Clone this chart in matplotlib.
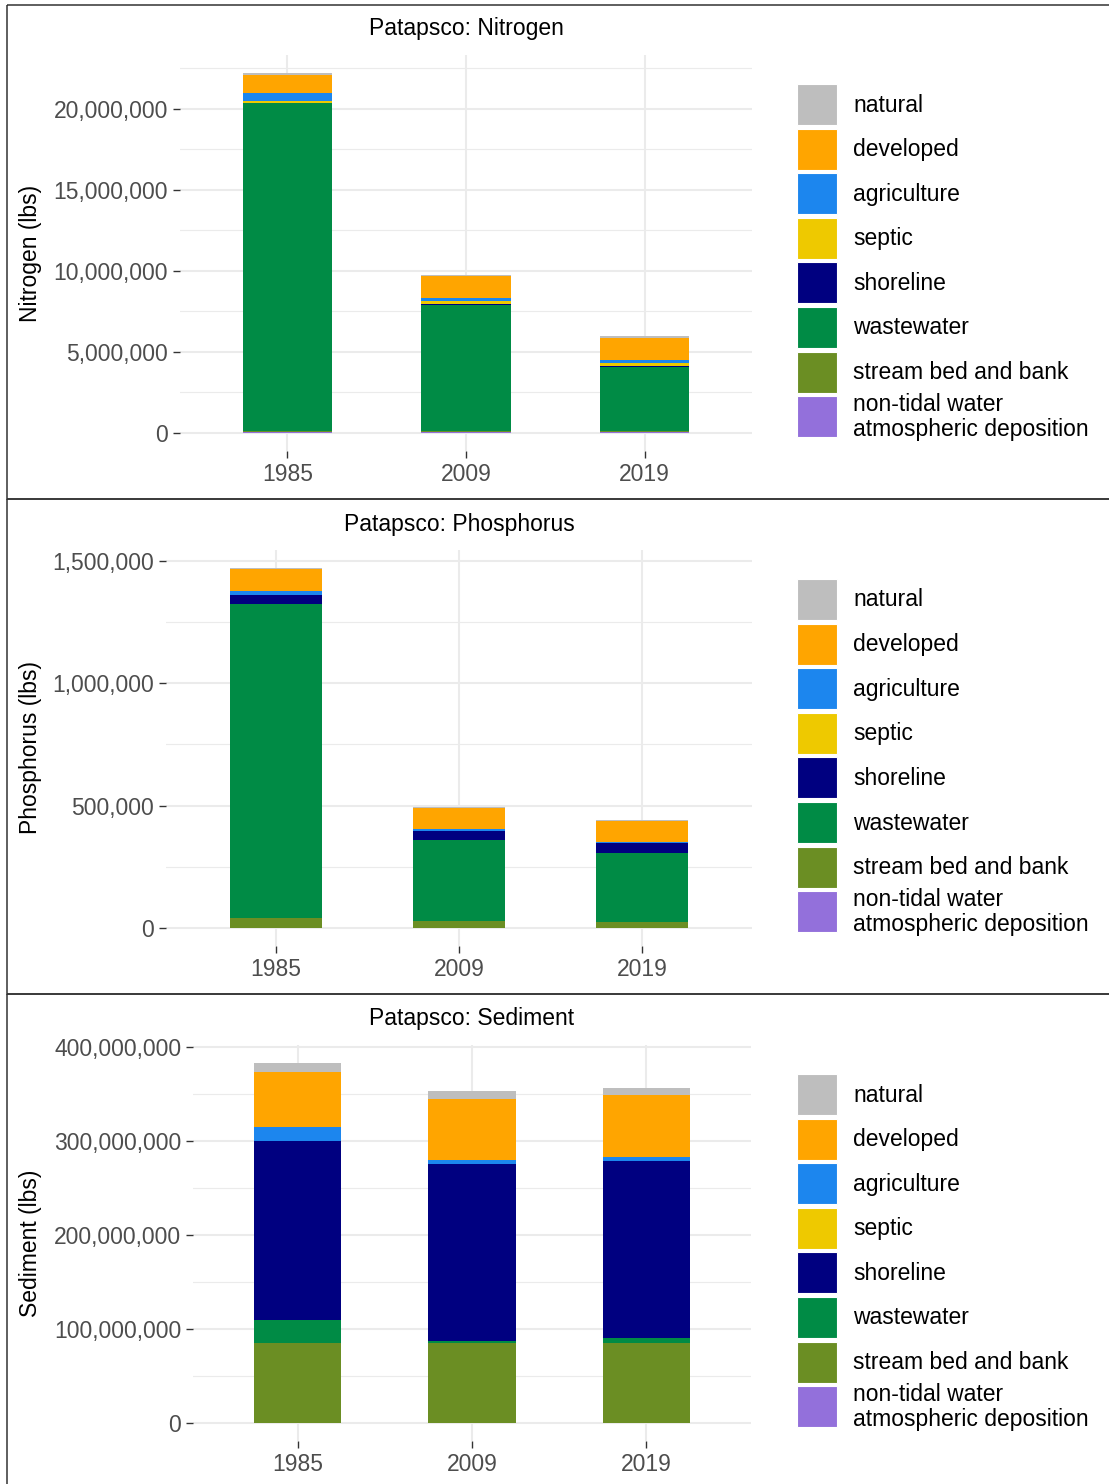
import matplotlib
matplotlib.use("Agg")
import matplotlib.pyplot as plt
from matplotlib.patches import Rectangle
from matplotlib.ticker import FuncFormatter, MultipleLocator

plt.rcParams["font.family"] = ["Liberation Sans", "DejaVu Sans"]

W, H = 1109, 1484

years = ["1985", "2009", "2019"]
sources = [
    "natural", "developed", "agriculture", "septic", "shoreline",
    "wastewater", "stream bed and bank", "non-tidal water\natmospheric deposition",
]
colors = ["#BEBEBE", "#FFA500", "#1C86EE", "#EEC900", "#000080",
          "#008B45", "#6B8E23", "#9370DB"]

# loads in lbs, listed per source in the order of `sources`
nitrogen_natural = [140000, 100000, 100000]
nitrogen_developed = [1090000, 1310000, 1380000]
nitrogen_agriculture = [475000, 230000, 185000]
nitrogen_septic = [120000, 190000, 165000]
nitrogen_shoreline = [20000, 20000, 80000]
nitrogen_wastewater = [20250000, 7800000, 3950000]
nitrogen_stream = [60000, 60000, 60000]
nitrogen_nontidal = [50000, 50000, 50000]

phosphorus_natural = [4000, 4000, 4000]
phosphorus_developed = [89000, 88000, 86000]
phosphorus_agriculture = [18000, 6000, 4000]
phosphorus_septic = [0, 0, 0]
phosphorus_shoreline = [38000, 38000, 40000]
phosphorus_wastewater = [1280000, 332000, 283000]
phosphorus_stream = [39000, 26000, 23000]
phosphorus_nontidal = [2000, 2000, 2000]

sediment_natural = [10000000, 7800000, 7100000]
sediment_developed = [58100000, 64600000, 65600000]
sediment_agriculture = [14900000, 4900000, 4300000]
sediment_septic = [0, 0, 0]
sediment_shoreline = [190100000, 188000000, 188600000]
sediment_wastewater = [24500000, 2100000, 5300000]
sediment_stream = [85100000, 85100000, 85100000]
sediment_nontidal = [0, 0, 0]

panels = [
    dict(title="Patapsco: Nitrogen", ylabel="Nitrogen (lbs)",
         loads=[nitrogen_natural, nitrogen_developed, nitrogen_agriculture,
                nitrogen_septic, nitrogen_shoreline, nitrogen_wastewater,
                nitrogen_stream, nitrogen_nontidal],
         major=5000000, box=(180, 752), offset=0),
    dict(title="Patapsco: Phosphorus", ylabel="Phosphorus (lbs)",
         loads=[phosphorus_natural, phosphorus_developed, phosphorus_agriculture,
                phosphorus_septic, phosphorus_shoreline, phosphorus_wastewater,
                phosphorus_stream, phosphorus_nontidal],
         major=500000, box=(166, 752), offset=495),
    dict(title="Patapsco: Sediment", ylabel="Sediment (lbs)",
         loads=[sediment_natural, sediment_developed, sediment_agriculture,
                sediment_septic, sediment_shoreline, sediment_wastewater,
                sediment_stream, sediment_nontidal],
         major=100000000, box=(193, 751), offset=990),
]

FS = 16.5
TICK_GREY = "#4D4D4D"
GRID = "#EBEBEB"

fig = plt.figure(figsize=(W / 100, H / 100), dpi=100)
fig.patch.set_facecolor("white")


def px_axes(x0, y0, x1, y1, **kw):
    return fig.add_axes([x0 / W, 1 - y1 / H, (x1 - x0) / W, (y1 - y0) / H], **kw)


overlay = px_axes(0, 0, W, H, zorder=5)
overlay.set_xlim(0, W)
overlay.set_ylim(H, 0)
overlay.axis("off")
overlay.patch.set_alpha(0)

comma = FuncFormatter(lambda v, _: f"{v:,.0f}")

for p in panels:
    off = p["offset"]
    x0, x1 = p["box"]
    ax = px_axes(x0, 55 + off, x1, 451 + off)

    # stack from the bottom source (last in list) upward
    bottom = [0.0] * len(years)
    for name, color, vals in reversed(list(zip(sources, colors, p["loads"]))):
        ax.bar(years, vals, width=0.5, bottom=bottom, color=color,
               linewidth=0, zorder=3)
        bottom = [b + v for b, v in zip(bottom, vals)]

    top = max(bottom)
    ax.set_ylim(-0.05 * top, 1.05 * top)
    ax.set_xlim(-0.6, len(years) - 0.4)
    ax.yaxis.set_major_locator(MultipleLocator(p["major"]))
    ax.yaxis.set_minor_locator(MultipleLocator(p["major"] / 2))
    ax.yaxis.set_major_formatter(comma)
    ax.grid(which="major", color=GRID, linewidth=1.5, zorder=0)
    ax.grid(which="minor", axis="y", color=GRID, linewidth=0.8, zorder=0)
    ax.set_axisbelow(True)
    for s in ax.spines.values():
        s.set_visible(False)
    ax.tick_params(which="major", length=5, width=1, color="#333333",
                   labelsize=FS, labelcolor=TICK_GREY, pad=3.5)
    ax.tick_params(which="minor", length=0)
    ax.set_ylabel(p["ylabel"], fontsize=FS, color="black")
    ax.yaxis.label.set_verticalalignment("center")
    ax.yaxis.set_label_coords((31 - x0) / (x1 - x0), 0.5)

    overlay.text((x0 + x1) / 2, 29 + off, p["title"], fontsize=FS,
                 ha="center", va="center")

    # legend
    for i, (name, color) in enumerate(zip(sources, colors)):
        ky = 84 + off + i * 44.6
        overlay.add_patch(Rectangle((797, ky), 40, 41, facecolor=color,
                                    edgecolor="white", linewidth=0.8))
        overlay.text(853, ky + 21, name, fontsize=FS, ha="left", va="center",
                     linespacing=1.1)

# panel frames
for top_y, bot_y in [(5, 499), (499, 994), (994, 1490)]:
    overlay.add_patch(Rectangle((7, top_y), W + 10, bot_y - top_y,
                                facecolor="none", edgecolor="#333333",
                                linewidth=1.1, clip_on=False))

fig.savefig("out.png", dpi=100)
